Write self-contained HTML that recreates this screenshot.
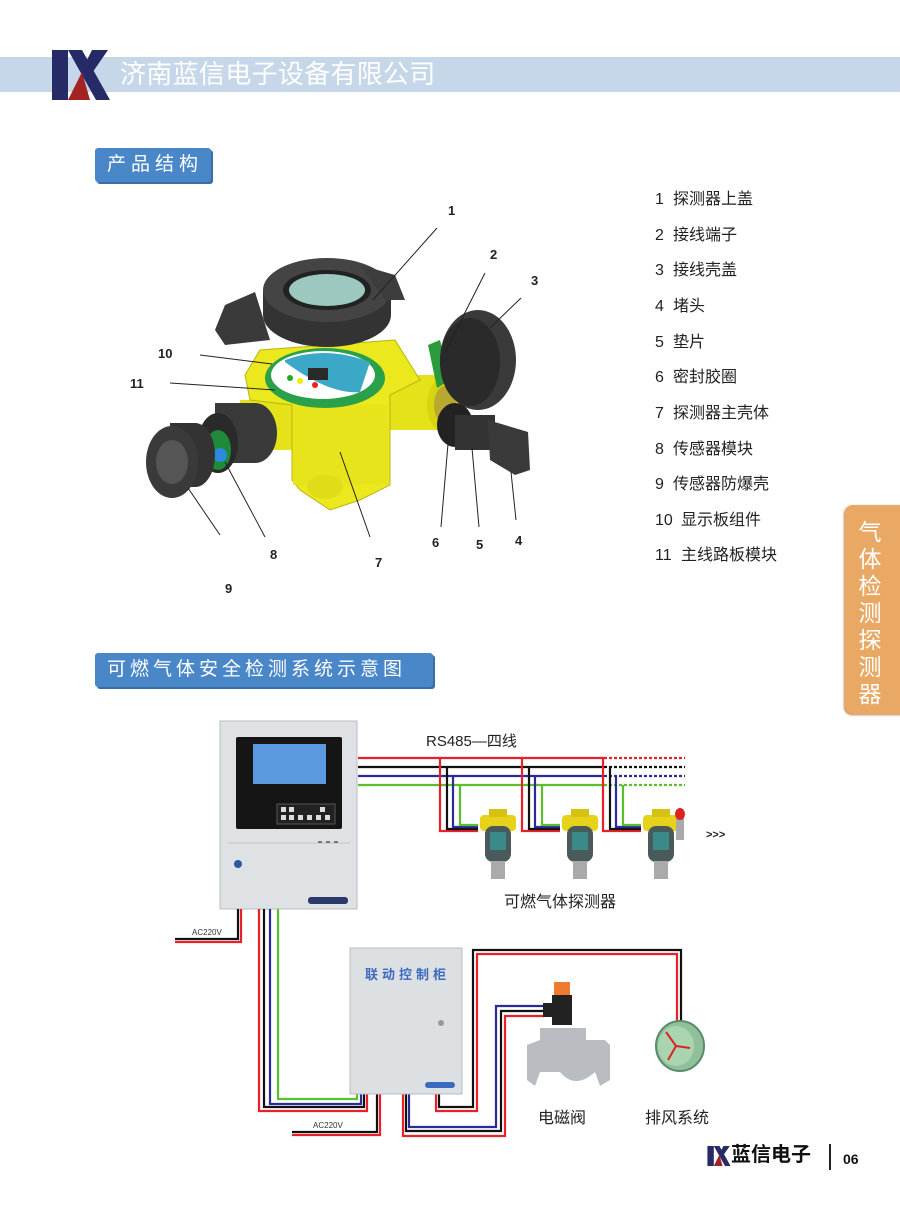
<!DOCTYPE html>
<html><head><meta charset="utf-8"><style>
html,body{margin:0;padding:0;background:#fff}
body{width:900px;height:1219px;position:relative;overflow:hidden;font-family:"Liberation Sans","Noto Sans CJK SC",sans-serif}
.t{position:absolute;white-space:nowrap}
.lab{position:absolute;background:#4a87c9;color:#fff;font-size:19px;letter-spacing:5px;line-height:34px;border-radius:3px;box-shadow:2px 2px 0 #3a6ea8;padding-left:12px;box-sizing:border-box}
.li{position:absolute;left:655px;font-size:16px;color:#222;white-space:nowrap}
.li span{display:inline-block;width:18px}
.li span.w{width:26px}
</style></head><body>
<!-- header -->
<div style="position:absolute;left:0;top:57px;width:900px;height:35px;background:#c5d7e8"></div>
<svg style="position:absolute;left:52px;top:50px" width="58" height="50" viewBox="0 0 58 50">
<rect x="0" y="0" width="16" height="50" fill="#262a66"/>
<polygon points="16,0 30,0 58,50 44,50" fill="#262a66"/>
<polygon points="40,0 56,0 38,26 32,16" fill="#262a66"/>
<polygon points="16,50 30,22 38,50" fill="#a32222"/>
</svg>
<div class="t" style="left:120px;top:57px;font-size:26px;color:#fff;line-height:34px;letter-spacing:0.3px">济南蓝信电子设备有限公司</div>

<div class="lab" style="left:95px;top:148px;width:116px">产品结构</div>
<div class="lab" style="left:95px;top:653px;width:338px;letter-spacing:4px">可燃气体安全检测系统示意图</div>

<!-- parts list -->
<div class="li" style="top:185px"><span>1</span>探测器上盖</div>
<div class="li" style="top:221px"><span>2</span>接线端子</div>
<div class="li" style="top:256px"><span>3</span>接线壳盖</div>
<div class="li" style="top:292px"><span>4</span>堵头</div>
<div class="li" style="top:328px"><span>5</span>垫片</div>
<div class="li" style="top:363px"><span>6</span>密封胶圈</div>
<div class="li" style="top:399px"><span>7</span>探测器主壳体</div>
<div class="li" style="top:435px"><span>8</span>传感器模块</div>
<div class="li" style="top:470px"><span>9</span>传感器防爆壳</div>
<div class="li" style="top:506px"><span class="w">10</span>显示板组件</div>
<div class="li" style="top:541px"><span class="w">11</span>主线路板模块</div>

<!-- side tab -->
<div style="position:absolute;left:845px;top:505px;width:60px;height:209px;background:#e9a863;border-radius:8px 0 0 8px;box-shadow:-1px 1px 2px #b9844a"></div>
<div class="t" style="left:858px;top:519px;width:24px;font-size:23px;line-height:27px;color:#fff;white-space:normal;text-align:center">气体检测探测器</div>

<!-- product drawing -->
<svg style="position:absolute;left:0;top:0" width="900" height="620">
<g>
<rect x="380" y="375" width="70" height="55" fill="#e6e21a"/>
<ellipse cx="445" cy="405" rx="18" ry="28" fill="#d8d410"/>
<ellipse cx="445" cy="405" rx="11" ry="19" fill="#b8a830"/>
<rect x="240" y="400" width="60" height="50" fill="#e6e21a"/>
<path d="M245,375 L260,350 L395,340 L420,380 L390,395 L390,485 L360,500 L330,510 L300,490 L292,480 L292,405 L250,400 Z" fill="#ece81e" stroke="#b8b410" stroke-width="1"/>
<rect x="293" y="405" width="95" height="80" fill="#e8e41c"/>
<ellipse cx="325" cy="487" rx="18" ry="12" fill="#e0dc18"/>
<ellipse cx="325" cy="378" rx="60" ry="30" fill="#2aa04a"/>
<ellipse cx="323" cy="375" rx="52" ry="24" fill="#fff"/>
<path d="M285,360 Q325,345 370,362 L360,392 Q330,395 285,362Z" fill="#3ca8c8"/>
<rect x="308" y="368" width="20" height="12" fill="#2a2a2a"/>
<circle cx="290" cy="378" r="3" fill="#2a2"/><circle cx="300" cy="381" r="3" fill="#ee0"/><circle cx="315" cy="385" r="3" fill="#e22"/>
<path d="M215,330 L225,305 L255,292 L270,340 L225,345Z" fill="#3a3a3a"/>
<ellipse cx="327" cy="315" rx="64" ry="32" fill="#333"/>
<rect x="263" y="290" width="128" height="25" fill="#333"/>
<ellipse cx="327" cy="290" rx="64" ry="32" fill="#444"/>
<ellipse cx="327" cy="290" rx="44" ry="20" fill="#222"/>
<ellipse cx="327" cy="290" rx="38" ry="16" fill="#9cc8c0"/>
<path d="M360,265 L395,275 L405,300 L385,300Z" fill="#3d3d3d"/>
<polygon points="428,345 440,340 450,380 437,388" fill="#2a9a3a"/>
<ellipse cx="478" cy="360" rx="38" ry="50" fill="#3a3a3a"/>
<ellipse cx="470" cy="362" rx="30" ry="44" fill="#2a2a2a"/>
<ellipse cx="455" cy="425" rx="18" ry="22" fill="#222"/>
<rect x="455" y="415" width="40" height="35" fill="#333"/>
<polygon points="488,420 528,432 530,470 515,475 490,460" fill="#3a3a3a"/>
<ellipse cx="255" cy="433" rx="22" ry="30" fill="#3a3a3a"/>
<rect x="215" y="403" width="40" height="60" fill="#3a3a3a"/>
<ellipse cx="218" cy="443" rx="20" ry="30" fill="#2a2a2a"/>
<ellipse cx="218" cy="450" rx="13" ry="20" fill="#1e8a3a"/>
<circle cx="220" cy="455" r="7" fill="#2a8ade"/>
<ellipse cx="195" cy="455" rx="20" ry="32" fill="#333"/>
<rect x="170" y="423" width="25" height="64" fill="#333"/>
<ellipse cx="172" cy="462" rx="26" ry="36" fill="#3a3a3a"/>
<ellipse cx="172" cy="462" rx="16" ry="22" fill="#555"/>
</g>
<g stroke="#222" stroke-width="1" fill="none">
<line x1="437" y1="228" x2="373" y2="300"/>
<line x1="485" y1="273" x2="445" y2="352"/>
<line x1="521" y1="298" x2="490" y2="328"/>
<line x1="200" y1="355" x2="272" y2="364"/>
<line x1="170" y1="383" x2="275" y2="390"/>
<line x1="220" y1="535" x2="188" y2="488"/>
<line x1="265" y1="537" x2="225" y2="462"/>
<line x1="370" y1="537" x2="340" y2="452"/>
<line x1="441" y1="527" x2="449" y2="432"/>
<line x1="479" y1="527" x2="472" y2="448"/>
<line x1="516" y1="520" x2="511" y2="472"/>
</g>
<g font-family="Liberation Sans,sans-serif" font-size="13" font-weight="bold" fill="#222">
<text x="448" y="215">1</text><text x="490" y="259">2</text><text x="531" y="285">3</text>
<text x="158" y="358">10</text><text x="130" y="388">11</text>
<text x="225" y="593">9</text><text x="270" y="559">8</text><text x="375" y="567">7</text>
<text x="432" y="547">6</text><text x="476" y="549">5</text><text x="515" y="545">4</text>
</g>
</svg>

<!-- system diagram -->
<svg style="position:absolute;left:0;top:700px" width="900" height="460" viewBox="0 700 900 460">
<rect x="220" y="721" width="137" height="188" fill="#dfe2e5" stroke="#b8bcc0"/>
<line x1="228" y1="843" x2="350" y2="843" stroke="#c0c4c8"/>
<rect x="236" y="737" width="106" height="92" rx="2" fill="#151515"/>
<rect x="253" y="744" width="73" height="40" fill="#5b9ae0"/>
<rect x="277" y="804" width="58" height="20" fill="#222" stroke="#555"/>
<g fill="#ddd"><rect x="281" y="807" width="5" height="5"/><rect x="289" y="807" width="5" height="5"/><rect x="320" y="807" width="5" height="5"/><rect x="281" y="815" width="5" height="5"/><rect x="289" y="815" width="5" height="5"/><rect x="298" y="815" width="5" height="5"/><rect x="307" y="815" width="5" height="5"/><rect x="316" y="815" width="5" height="5"/><rect x="325" y="815" width="5" height="5"/></g>
<circle cx="238" cy="864" r="4" fill="#2a5a9a"/>
<rect x="308" y="897" width="40" height="7" rx="3" fill="#2a3a6a"/>
<g stroke="#555" stroke-width="1.5"><line x1="318" y1="842" x2="322" y2="842"/><line x1="326" y1="842" x2="330" y2="842"/><line x1="334" y1="842" x2="338" y2="842"/></g>

<g stroke-width="2.2" fill="none">
<line x1="358" y1="758" x2="604" y2="758" stroke="#e8202a"/>
<line x1="358" y1="767" x2="604" y2="767" stroke="#111"/>
<line x1="358" y1="776" x2="604" y2="776" stroke="#2a2a9a"/>
<line x1="358" y1="785" x2="604" y2="785" stroke="#5ac02a"/>
<g stroke-dasharray="3,2">
<line x1="604" y1="758" x2="685" y2="758" stroke="#e8202a"/>
<line x1="604" y1="767" x2="685" y2="767" stroke="#111"/>
<line x1="604" y1="776" x2="685" y2="776" stroke="#2a2a9a"/>
<line x1="604" y1="785" x2="685" y2="785" stroke="#5ac02a"/>
</g>
<g id="drop">
<polyline points="440,758 440,831 478,831" stroke="#e8202a"/>
<polyline points="447,767 447,829 478,829" stroke="#111"/>
<polyline points="453,776 453,827 478,827" stroke="#2a2a9a"/>
<polyline points="460,785 460,825 478,825" stroke="#5ac02a"/>
</g>
<use href="#drop" x="82"/>
<use href="#drop" x="163"/>
</g>
<g id="det">
<rect x="480" y="815" width="36" height="16" rx="4" fill="#e6d21a"/>
<rect x="489" y="809" width="18" height="8" fill="#d6c210"/>
<rect x="485" y="826" width="26" height="36" rx="8" fill="#4a5a5a"/>
<rect x="490" y="832" width="16" height="18" fill="#3a8a8a"/>
<rect x="491" y="861" width="14" height="18" fill="#aaa"/>
</g>
<use href="#det" x="82"/>
<use href="#det" x="163"/>
<rect x="676" y="818" width="8" height="22" fill="#aaa"/>
<ellipse cx="680" cy="814" rx="5" ry="6" fill="#d22"/>

<g stroke-width="2.2" fill="none">
<polyline points="175,942 241,942 241,909" stroke="#e8202a"/>
<polyline points="175,939 238,939 238,909" stroke="#111"/>
<polyline points="259,909 259,1111 367,1111 367,1094" stroke="#e8202a"/>
<polyline points="264,909 264,1107 364,1107 364,1094" stroke="#111"/>
<polyline points="270,909 270,1104 361,1104 361,1094" stroke="#2a2a9a"/>
<polyline points="278,909 278,1099 357,1099 357,1094" stroke="#5ac02a"/>
<polyline points="292,1135 380,1135 380,1094" stroke="#e8202a"/>
<polyline points="292,1132 377,1132 377,1094" stroke="#111"/>
<polyline points="403,1094 403,1136 505,1136 505,1016 545,1016" stroke="#e8202a"/>
<polyline points="406,1094 406,1131 501,1131 501,1011 545,1011" stroke="#111"/>
<polyline points="409,1094 409,1127 496,1127 496,1006 545,1006" stroke="#2a2a9a"/>
<polyline points="436,1094 436,1111 477,1111 477,954 677,954 677,1022" stroke="#e8202a"/>
<polyline points="439,1094 439,1107 473,1107 473,950 681,950 681,1022" stroke="#111"/>
</g>
<rect x="350" y="948" width="112" height="146" fill="#dde0e3" stroke="#b8bcc0"/>
<circle cx="441" cy="1023" r="3" fill="#999"/>
<rect x="425" y="1082" width="30" height="6" rx="3" fill="#3a6ac0"/>
<rect x="554" y="982" width="16" height="14" fill="#f07a30"/>
<rect x="552" y="995" width="20" height="30" fill="#222"/>
<rect x="543" y="1003" width="12" height="14" fill="#222"/>
<path d="M540,1028 L586,1028 L586,1040 L605,1040 L610,1045 L610,1080 L600,1086 L595,1072 Q575,1090 560,1072 L540,1072 L535,1086 L527,1080 L527,1045 L540,1040Z" fill="#b9bcc0"/>
<ellipse cx="680" cy="1046" rx="24" ry="25" fill="#8fc09a" stroke="#5a8a6a" stroke-width="2"/>
<ellipse cx="676" cy="1046" rx="18" ry="20" fill="#a8d4b0"/>
<g stroke="#d22" stroke-width="2"><line x1="676" y1="1046" x2="666" y2="1032"/><line x1="676" y1="1046" x2="690" y2="1048"/><line x1="676" y1="1046" x2="668" y2="1060"/></g>
</svg>
<div class="t" style="left:426px;top:730px;font-size:15px;color:#222">RS485—四线</div>
<div class="t" style="left:504px;top:888px;font-size:16px;color:#222">可燃气体探测器</div>
<div class="t" style="left:706px;top:829px;font-size:11px;font-weight:bold;color:#222">&gt;&gt;&gt;</div>
<div class="t" style="left:192px;top:928px;font-size:8px;color:#333">AC220V</div>
<div class="t" style="left:313px;top:1121px;font-size:8px;color:#333">AC220V</div>
<div class="t" style="left:365px;top:964px;font-size:13px;color:#3a6ac0;font-weight:bold;letter-spacing:4px">联动控制柜</div>
<div class="t" style="left:538px;top:1104px;font-size:16px;color:#222">电磁阀</div>
<div class="t" style="left:645px;top:1104px;font-size:16px;color:#222">排风系统</div>

<svg style="position:absolute;left:707px;top:1146px" width="24" height="20" viewBox="0 0 58 50">
<rect x="0" y="0" width="16" height="50" fill="#262a66"/>
<polygon points="16,0 30,0 58,50 44,50" fill="#262a66"/>
<polygon points="40,0 56,0 38,26 32,16" fill="#262a66"/>
<polygon points="16,50 30,22 38,50" fill="#a32222"/>
</svg>
<div class="t" style="left:731px;top:1142px;font-size:20px;font-weight:bold;color:#111;line-height:26px">蓝信电子</div>
<div style="position:absolute;left:829px;top:1144px;width:2px;height:26px;background:#222"></div>
<div class="t" style="left:843px;top:1151px;font-size:14px;font-weight:bold;color:#111">06</div>
</body></html>
